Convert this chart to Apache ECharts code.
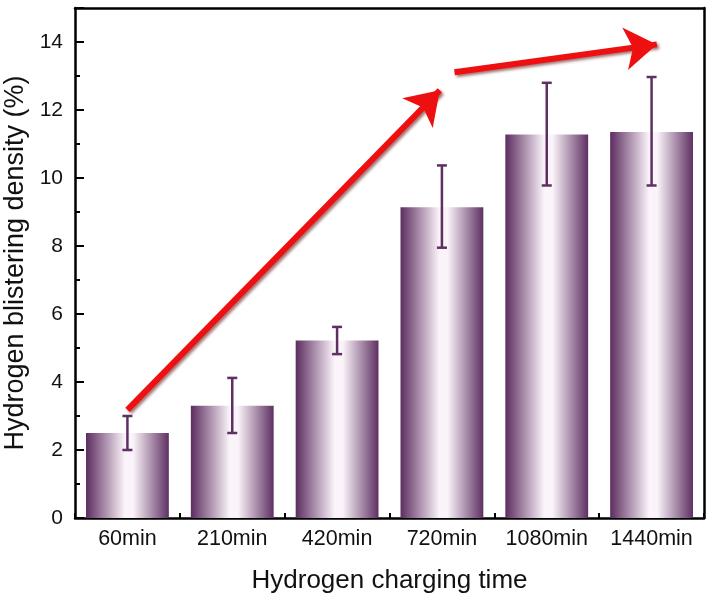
<!DOCTYPE html>
<html>
<head>
<meta charset="utf-8">
<script src="https://cdn.jsdelivr.net/npm/echarts@6/dist/echarts.min.js"></script>
<style>html,body{margin:0;padding:0;background:#fff}#c{width:712px;height:602px}</style>
</head>
<body>
<div id="c"></div>
<script>
var categories = ['60min', '210min', '420min', '720min', '1080min', '1440min'];
var density = [2.5, 3.3, 5.22, 9.14, 11.28, 11.35];
var errLow = [2.0, 2.5, 4.82, 7.95, 9.78, 9.78];
var errHigh = [3.0, 4.12, 5.62, 10.37, 12.8, 12.97];
var yTicks = [0, 2, 4, 6, 8, 10, 12, 14];
// arrow annotations in (category position, value) coordinates
var arrow1 = [[0.0, 3.18], [2.98, 12.58]];
var arrow2 = [[3.12, 13.11], [5.05, 13.93]];

var chart = echarts.init(document.getElementById('c'));
var purple = '#5e2f61';
var font = '"Liberation Sans", Arial, sans-serif';
var barGradient = new echarts.graphic.LinearGradient(0, 0, 1, 0, [
  {offset: 0, color: '#5c2c5f'},
  {offset: 0.47, color: '#fbf4fa'},
  {offset: 0.57, color: '#faf3f9'},
  {offset: 1, color: '#5e3062'}
]);

chart.setOption({
  animation: false,
  grid: {left: 75, right: 8, top: 8, bottom: 84, containLabel: false, outerBoundsMode: 'none'},
  xAxis: [{
    type: 'category',
    data: categories,
    name: 'Hydrogen charging time',
    nameLocation: 'middle',
    nameGap: 50,
    nameTextStyle: {fontSize: 26, color: '#111', fontFamily: font},
    axisLine: {onZero: false, lineStyle: {color: '#000', width: 2.5}},
    axisTick: {show: true, inside: true, interval: 0, length: 5, alignWithLabel: false, lineStyle: {color: '#000', width: 2}},
    axisLabel: {interval: 0, fontSize: 21.5, color: '#111', fontFamily: font, margin: 10},
    splitLine: {show: false}
  }, {
    type: 'value',
    min: -0.5, max: 5.5,
    position: 'top',
    axisLine: {show: true, onZero: false, lineStyle: {color: '#000', width: 2.5}},
    axisTick: {show: false},
    axisLabel: {show: false},
    splitLine: {show: false}
  }],
  yAxis: [{
    type: 'value',
    min: 0, max: 15, interval: 2,
    name: 'Hydrogen blistering density (%)',
    nameLocation: 'middle',
    nameGap: 41,
    nameTextStyle: {fontSize: 27, color: '#111', fontFamily: font},
    axisLine: {show: true, onZero: false, lineStyle: {color: '#000', width: 2.5}},
    axisTick: {show: true, inside: true, length: 9, lineStyle: {color: '#000', width: 2}},
    minorTick: {show: true, splitNumber: 2, length: 5, lineStyle: {color: '#000', width: 2}},
    axisLabel: {fontSize: 21, color: '#111', fontFamily: font, margin: 12,
      formatter: function (v) { return yTicks.indexOf(v) >= 0 ? String(v) : ''; }},
    splitLine: {show: false}
  }, {
    type: 'value',
    min: 0, max: 15,
    position: 'right',
    axisLine: {show: true, onZero: false, lineStyle: {color: '#000', width: 2.5}},
    axisTick: {show: false},
    axisLabel: {show: false},
    splitLine: {show: false}
  }],
  series: [{
    type: 'bar',
    data: density,
    barWidth: '79%',
    itemStyle: {color: barGradient},
    z: 2
  }, {
    type: 'custom',
    data: categories.map(function (c, i) { return [i, errLow[i], errHigh[i]]; }),
    renderItem: function (params, api) {
      var lo = api.coord([api.value(0), api.value(1)]);
      var hi = api.coord([api.value(0), api.value(2)]);
      var hw = 5;
      var st = {stroke: purple, lineWidth: 2.5};
      return {type: 'group', children: [
        {type: 'line', shape: {x1: lo[0], y1: lo[1], x2: hi[0], y2: hi[1]}, style: st},
        {type: 'line', shape: {x1: lo[0] - hw, y1: lo[1], x2: lo[0] + hw, y2: lo[1]}, style: st},
        {type: 'line', shape: {x1: hi[0] - hw, y1: hi[1], x2: hi[0] + hw, y2: hi[1]}, style: st}
      ]};
    },
    z: 3
  }, {
    type: 'lines',
    coordinateSystem: 'cartesian2d',
    xAxisIndex: 1,
    yAxisIndex: 0,
    symbol: ['none', 'arrow'],
    symbolSize: [30, 32],
    lineStyle: {color: '#ee1010', width: 6, opacity: 1, curveness: 0,
      shadowColor: 'rgba(90,0,0,0.55)', shadowBlur: 3, shadowOffsetX: 2, shadowOffsetY: 2},
    data: [{coords: arrow1}, {coords: arrow2}],
    z: 5
  }]
});
</script>
</body>
</html>
